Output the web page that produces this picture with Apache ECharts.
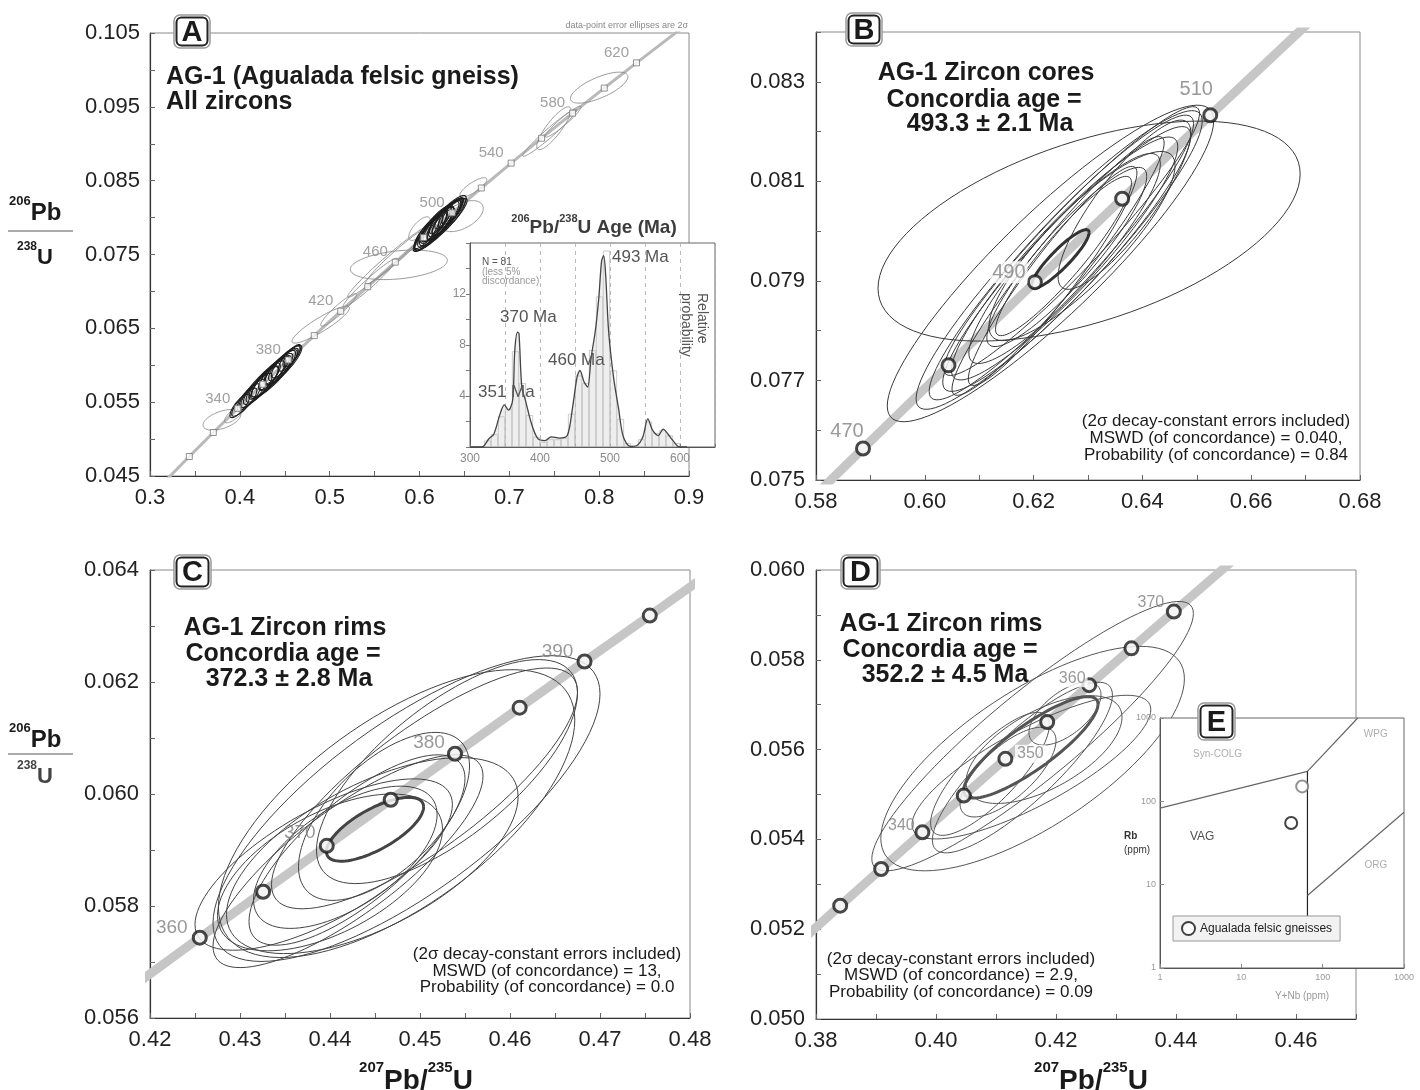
<!DOCTYPE html>
<html><head><meta charset="utf-8">
<script src="https://cdn.jsdelivr.net/npm/echarts@6/dist/echarts.min.js"></script>
<style>html,body{margin:0;padding:0;background:#fff}#c{width:1420px;height:1090px}</style>
</head><body><div id="c"></div>
<script>
const FONT = "'Liberation Sans', Arial, Helvetica, sans-serif";

// ---------- Panel A : concordia reference points (age Ma, 207Pb/235U, 206Pb/238U) ----------
const concAgesA = [260,280,300,320,340,360,380,400,420,440,460,480,500,520,540,560,580,600,620,640,660];
const concXA = [0.29183,0.31753,0.34375,0.37047,0.39773,0.42553,0.45389,0.48281,0.51231,0.54239,0.57307,0.60436,0.63628,0.66883,0.70203,0.73588,0.77041,0.80563,0.84155,0.87818,0.91555];
const concYA = [0.041157,0.044392,0.047638,0.050893,0.054158,0.057434,0.060719,0.064016,0.067322,0.070639,0.073965,0.077303,0.080650,0.084008,0.087376,0.090755,0.094144,0.097544,0.100955,0.104376,0.107806];
const markAgesA = [300,320,340,360,380,400,420,440,460,480,500,520,540,560,580,600,620];
const labelAgesA = [340,380,420,460,500,540,580,620];
// error ellipses: [centre x, centre y, half-width x, half-height y, correlation]
const ellA = [
 [0.612,0.0782,0.018,0.0026,0.85],[0.618,0.0788,0.020,0.0028,0.86],[0.622,0.0792,0.022,0.0030,0.88],
 [0.627,0.0797,0.019,0.0027,0.85],[0.631,0.0801,0.017,0.0025,0.84],[0.616,0.0787,0.015,0.0022,0.82],
 [0.624,0.0795,0.014,0.0021,0.80],[0.620,0.0789,0.026,0.0034,0.90],[0.628,0.0799,0.024,0.0031,0.89],
 [0.614,0.0786,0.012,0.0019,0.80],[0.634,0.0805,0.013,0.0019,0.82],[0.625,0.0793,0.011,0.0017,0.78],
 [0.619,0.0792,0.017,0.0024,0.84],[0.630,0.0798,0.021,0.0028,0.87],[0.608,0.0779,0.014,0.0021,0.83],
 [0.637,0.0809,0.012,0.0018,0.82],[0.623,0.0790,0.030,0.0036,0.92],[0.626,0.0800,0.009,0.0015,0.75],
 [0.621,0.0794,0.010,0.0016,0.76],[0.617,0.0785,0.022,0.0029,0.88],
 [0.425,0.0574,0.018,0.0024,0.85],[0.430,0.0580,0.020,0.0026,0.86],[0.435,0.0585,0.022,0.0028,0.88],
 [0.440,0.0591,0.019,0.0025,0.85],[0.445,0.0597,0.017,0.0023,0.84],[0.420,0.0568,0.016,0.0021,0.83],
 [0.450,0.0603,0.015,0.0020,0.83],[0.438,0.0588,0.026,0.0033,0.90],[0.415,0.0562,0.014,0.0019,0.82],
 [0.410,0.0557,0.013,0.0018,0.80],[0.455,0.0609,0.012,0.0017,0.80],[0.432,0.0583,0.011,0.0016,0.78],
 [0.442,0.0594,0.010,0.0015,0.76],[0.405,0.0550,0.014,0.0019,0.84],[0.400,0.0545,0.011,0.0016,0.80],
 [0.427,0.0577,0.028,0.0035,0.92],[0.448,0.0600,0.021,0.0027,0.87],[0.458,0.0613,0.010,0.0015,0.78],
 [0.436,0.0589,0.009,0.0014,0.72],[0.428,0.0578,0.015,0.0021,0.82]
];
const ellAfaint = [
 [0.647,0.0802,0.024,0.0021,0.50],[0.660,0.0841,0.015,0.0013,0.80],[0.600,0.0785,0.012,0.0016,0.70],
 [0.577,0.0736,0.054,0.0020,0.30],[0.565,0.0740,0.045,0.0048,0.98],[0.575,0.0748,0.035,0.0038,0.97],
 [0.545,0.0712,0.030,0.0033,0.97],[0.510,0.0675,0.020,0.0022,0.93],[0.490,0.0655,0.032,0.0025,0.90],
 [0.745,0.0915,0.030,0.0032,0.97],[0.7495,0.0921,0.019,0.0029,0.85],[0.800,0.0976,0.032,0.0021,0.70],
 [0.760,0.0930,0.020,0.0021,0.95],[0.380,0.0526,0.021,0.0014,0.50],[0.395,0.0535,0.012,0.0013,0.80]
];

// ---------- Panel A inset : 206Pb/238U age probability ----------
const probAges = [300,317,327,334,343,349,355,361,364,368,370,374,379,388,397,407,416,428,439,446,453,457,463,468,473,479,484,488,491,494,498,505,512,519,529,538,547,554,561,569,576,583,590,599,610];
const probVals = [0,0,0.65,1.0,2.6,3.3,2.9,3.7,7.6,9.0,8.9,4.7,3.7,1.8,0.65,0.5,0.8,0.7,0.9,2.9,5.5,6.0,5.1,4.7,7.0,9.1,11.7,14.6,15.0,13.3,9.1,5.5,3.1,0.8,0.05,0.1,0.8,2.2,1.3,0.9,1.4,1.0,0.5,0,0];
const histBins = [325,335,345,355,365,375,385,395,405,415,425,435,445,455,465,475,485,495,505,515,525,535,545,555,565,575,585,595];
const histCounts = [0.5,1,2.4,3,7.5,5,2.5,0.8,0.4,0.6,0.6,0.7,2.6,5.6,5,7.6,11.8,15.4,6,2.2,0.3,0.1,0.6,2,1.1,1.3,0.9,0.3];

// ---------- Panel B ----------
const concAgesB = [460,470,480,490,500,510,520,530];
const concXB = [0.57307,0.58864,0.60436,0.62024,0.63628,0.65247,0.66883,0.68535];
const concYB = [0.073965,0.075633,0.077303,0.078975,0.080650,0.082328,0.084008,0.085690];
const circleAgesB = [470,480,490,500,510];
const labelAgesB = [470,490,510];
const ellB = [
 [0.6302,0.0800,0.0388,0.00221,0.52],[0.6231,0.07935,0.0300,0.00318,0.90],[0.6247,0.07942,0.0263,0.00300,0.93],
 [0.6251,0.07947,0.0243,0.00286,0.94],[0.6261,0.07944,0.0228,0.00266,0.93],[0.6257,0.07945,0.0208,0.00244,0.92],
 [0.6257,0.07945,0.0176,0.00211,0.90],[0.6261,0.07948,0.0147,0.00180,0.90],[0.6367,0.08053,0.0122,0.00170,0.85],
 [0.6289,0.0797,0.0171,0.0019,0.85],[0.6255,0.0795,0.0125,0.0016,0.92],[0.6245,0.0793,0.0195,0.0026,0.95],
 [0.6270,0.0798,0.0235,0.0027,0.95],[0.6235,0.0791,0.0155,0.0022,0.94]
];
const ellBbold = [[0.6249,0.07944,0.0053,0.00059,0.90]];

// ---------- Panel C ----------
const concAgesC = [350,355,360,365,370,375,380,385,390,395,400];
const concXC = [0.41156,0.41853,0.42553,0.43257,0.43964,0.44675,0.45389,0.46107,0.46828,0.47553,0.48281];
const concYC = [0.055795,0.056614,0.057434,0.058255,0.059075,0.059897,0.060719,0.061542,0.062366,0.063186,0.064016];
const circleAgesC = [360,365,370,375,380,385,390,395];
const labelAgesC = [360,370,380,390];
const ellC = [
 [0.4485,0.05974,0.0215,0.00273,0.75],[0.4474,0.05965,0.0198,0.00257,0.65],[0.4447,0.0589,0.0162,0.00175,0.60],
 [0.4393,0.05874,0.0143,0.00153,0.70],[0.4417,0.05887,0.0102,0.00127,0.60],[0.4505,0.0601,0.0170,0.00215,0.80],
 [0.4430,0.0590,0.0120,0.0017,0.75],[0.4460,0.0596,0.0095,0.0015,0.60],[0.4420,0.0588,0.0150,0.0019,0.80],
 [0.4400,0.0586,0.0125,0.0014,0.55],[0.4530,0.0604,0.0145,0.0020,0.70]
];
const ellCbold = [[0.4450,0.05937,0.0054,0.00057,0.70]];

// ---------- Panel D ----------
const concAgesD = [320,325,330,335,340,345,350,355,360,365,370,375,380];
const concXD = [0.37047,0.37723,0.38403,0.39086,0.39773,0.40463,0.41156,0.41853,0.42553,0.43257,0.43964,0.44675,0.45389];
const concYD = [0.050893,0.051708,0.052524,0.053341,0.054158,0.054976,0.055795,0.056614,0.057434,0.058255,0.059075,0.059897,0.060719];
const circleAgesD = [330,335,340,345,350,355,360,365,370];
const labelAgesD = [340,350,360,370];
const ellD = [
 [0.4161,0.0563,0.0268,0.0030,0.91],[0.4161,0.0558,0.0253,0.0025,0.71],[0.4159,0.05561,0.0199,0.0016,0.80],
 [0.4144,0.0556,0.0150,0.0019,0.85],[0.4090,0.05546,0.0099,0.00137,0.80],[0.4215,0.0568,0.0060,0.0007,0.60],
 [0.4120,0.0555,0.0080,0.0010,0.70],[0.4180,0.0560,0.0130,0.0012,0.60]
];
const ellDbold = [[0.4158,0.05605,0.0112,0.00113,0.85]];

// ---------- Panel E : Rb vs Y+Nb ----------
const eYNb = [56, 41];
const eRb = [151, 55];
const lineVagSyn = [[1,83],[65,229]];
const lineWpgSyn = [[65,229],[270,1000]];
const lineVagWpg = [[65,229],[65,4]];
const lineOrgWpg = [[65,7.4],[1000,74]];
const fieldNames = ['Syn-COLG','VAG','WPG','ORG'];
const fieldX = [5.1, 3.3, 450, 450];
const fieldY = [363, 38, 630, 17];

// ================= styles (not data) =================
const labelOffB = {470:[-16,-17],490:[-26,-10],510:[-14,-26]};
const labelOffC = {360:[-28,-10],370:[-27,-13],380:[-26,-11],390:[-27,-10]};
const labelOffD = {340:[-21,-7],350:[25,-5],360:[-17,-7],370:[-23,-9]};
const labelBgB = {490:true};
const labelBgD = {350:true,360:true};

function pairs(xs, ys){ return xs.map((x,i)=>[x, ys[i]]); }
function pick(ages, xs, ys, want){ return want.map(a=>{const i=ages.indexOf(a); return [xs[i], ys[i], a];}); }

function ellipseSeries(g, data, color, lw, z){
  return {type:'custom', xAxisIndex:g, yAxisIndex:g, z:z||3, clip:true, silent:true,
    encode:{x:0,y:1}, data:data,
    renderItem:function(params, api){
      const cx=api.value(0), cy=api.value(1), sx=api.value(2), sy=api.value(3), r=api.value(4);
      const q=Math.sqrt(1-r*r); const pts=[];
      for(let k=0;k<=96;k++){const t=k/96*2*Math.PI;
        pts.push(api.coord([cx+sx*Math.cos(t), cy+sy*(r*Math.cos(t)+q*Math.sin(t))]));}
      return {type:'polyline', shape:{points:pts}, style:{fill:null, stroke:color, lineWidth:lw}};
    }};
}
function concLine(g, xs, ys, width, color){
  return {type:'line', xAxisIndex:g, yAxisIndex:g, data:pairs(xs,ys), showSymbol:false, symbol:'none', clip:true,
    silent:true, z:2, lineStyle:{color:color, width:width, cap:'butt'}};
}
function circleSeries(g, pts, labelAges, offs, bgs, fs){
  return {type:'scatter', xAxisIndex:g, yAxisIndex:g, z:5, silent:true, symbol:'circle', symbolSize:13,
    itemStyle:{color:'#fff', borderColor:'#1a1a1a', borderWidth:3},
    data:pts.map(p=>({value:p, label:{show:labelAges.indexOf(p[2])>=0, position:'inside',
      offset:offs[p[2]]||[0,0], formatter:String(p[2]), fontSize:fs, color:'#808080', fontFamily:FONT,
      backgroundColor:(bgs && bgs[p[2]])?'#fff':'transparent', padding:[1,2]}}))};
}
function valAxis(g, min, max, interval, every, dec, extra){
  const k0=Math.round(min/interval);
  return Object.assign({type:'value', gridIndex:g, min:min, max:max, interval:interval,
    axisLine:{show:true, onZero:false, lineStyle:{color:'#333', width:1.2}},
    axisTick:{show:true, inside:true, length:5, lineStyle:{color:'#666'}},
    axisLabel:{fontSize:22, color:'#222', fontFamily:FONT, margin:11, showMinLabel:true, showMaxLabel:true,
      formatter:function(v){const k=Math.round(v/interval); return ((k-k0)%every===0)? v.toFixed(dec) : '';}},
    splitLine:{show:false}}, extra||{});
}

const series = [];
// Panel A
series.push(concLine(0, concXA, concYA, 3, '#b9b9b9'));
series.push(ellipseSeries(0, ellAfaint, '#8c8c8c', 0.9, 3));
series.push(ellipseSeries(0, ellA, '#1e1e1e', 1.1, 3));
series.push({type:'scatter', xAxisIndex:0, yAxisIndex:0, z:5, silent:true, symbol:'rect', symbolSize:6,
  itemStyle:{color:'#fff', borderColor:'#777', borderWidth:1},
  data:pick(concAgesA, concXA, concYA, markAgesA).map(p=>({value:p, label:{show:labelAgesA.indexOf(p[2])>=0,
    position:'inside', offset:[-20,-10], formatter:String(p[2]), fontSize:15, color:'#888', fontFamily:FONT}}))});
// inset
series.push({type:'bar', xAxisIndex:4, yAxisIndex:4, z:7, silent:true, barWidth:7, data:pairs(histBins, histCounts),
  itemStyle:{color:'rgba(0,0,0,0)', borderColor:'#b5b5b5', borderWidth:0.7}});
series.push({type:'line', xAxisIndex:4, yAxisIndex:4, z:8, silent:true, smooth:0.3, showSymbol:false, symbol:'none',
  data:pairs(probAges, probVals), lineStyle:{color:'#444', width:1.3}, areaStyle:{color:'rgba(200,200,200,0.45)'}});
// Panel B
series.push(concLine(1, concXB, concYB, 9, '#c6c6c6'));
series.push(ellipseSeries(1, ellB, '#3a3a3a', 1.0, 3));
series.push(ellipseSeries(1, ellBbold, '#333', 3, 3));
series.push(circleSeries(1, pick(concAgesB, concXB, concYB, circleAgesB), labelAgesB, labelOffB, labelBgB, 20));
// Panel C
series.push(concLine(2, concXC, concYC, 9, '#c6c6c6'));
series.push(ellipseSeries(2, ellC, '#444', 1.0, 3));
series.push(ellipseSeries(2, ellCbold, '#444', 3, 3));
series.push(circleSeries(2, pick(concAgesC, concXC, concYC, circleAgesC), labelAgesC, labelOffC, null, 19));
// Panel D
series.push(concLine(3, concXD, concYD, 9, '#c6c6c6'));
series.push(ellipseSeries(3, ellD, '#555', 1.0, 3));
series.push(ellipseSeries(3, ellDbold, '#555', 3, 3));
series.push(circleSeries(3, pick(concAgesD, concXD, concYD, circleAgesD), labelAgesD, labelOffD, labelBgD, 16));
// Panel E
[lineVagSyn, lineWpgSyn, lineVagWpg, lineOrgWpg].forEach(function(d, i){
  series.push({type:'line', xAxisIndex:5, yAxisIndex:5, z:7, silent:true, showSymbol:false, symbol:'none', data:d,
    lineStyle:{color: i===2 ? '#222' : '#666', width:1.2}});
});
series.push({type:'scatter', name:'Agualada felsic gneisses', xAxisIndex:5, yAxisIndex:5, z:8, silent:true,
  symbol:'circle', symbolSize:12, itemStyle:{color:'#fff', borderColor:'#111', borderWidth:2},
  data:pairs(eYNb, eRb).map((p,i)=>({value:p, itemStyle: i===0 ? {borderColor:'#777'} : {}}))});
series.push({type:'scatter', xAxisIndex:5, yAxisIndex:5, z:8, silent:true, symbolSize:0,
  data:fieldNames.map((n,i)=>({value:[fieldX[i], fieldY[i]], label:{show:true, position:'inside', formatter:n,
    fontSize: n==='VAG'?12:10, color: n==='VAG'?'#222':'#999', fontFamily:FONT}}))});

// ---------- axes ----------
const logLabel = {fontSize:9, color:'#999', fontFamily:FONT, margin:5, formatter:v=>String(Math.round(v))};
const xAxes = [
  valAxis(0, 0.3, 0.9, 0.05, 2, 1),
  valAxis(1, 0.58, 0.68, 0.01, 2, 2),
  valAxis(2, 0.42, 0.48, 0.005, 2, 2),
  valAxis(3, 0.38, 0.47, 0.01, 2, 2),
  {type:'value', gridIndex:4, min:300, max:650, interval:50, z:6,
    axisLine:{show:true, onZero:false, lineStyle:{color:'#555'}},
    axisTick:{show:true, inside:true, length:3, lineStyle:{color:'#777'}},
    axisLabel:{fontSize:12, color:'#8a8a8a', fontFamily:FONT, margin:6, formatter:v=>(v%100===0 && v<=600)?String(v):''},
    splitLine:{show:true, lineStyle:{color:'#aaa', type:[4,4], width:0.8}}},
  {type:'log', logBase:10, gridIndex:5, min:1, max:1000, z:6,
    axisLine:{show:true, onZero:false, lineStyle:{color:'#555'}},
    axisTick:{show:true, inside:true, length:4, lineStyle:{color:'#888'}},
    axisLabel:logLabel, splitLine:{show:false}}
];
const yAxes = [
  valAxis(0, 0.045, 0.105, 0.005, 2, 3, {axisLabel:{fontSize:22, color:'#222', fontFamily:FONT, margin:10,
    formatter:function(v){const k=Math.round(v/0.005); return ((k-9)%2===0)? v.toFixed(3):'';}}}),
  valAxis(1, 0.075, 0.084, 0.001, 2, 3),
  valAxis(2, 0.056, 0.064, 0.001, 2, 3),
  valAxis(3, 0.050, 0.060, 0.001, 2, 3),
  {type:'value', gridIndex:4, min:0, max:16, interval:2, z:6,
    axisLine:{show:true, onZero:false, lineStyle:{color:'#555'}},
    axisTick:{show:true, inside:false, length:4, lineStyle:{color:'#777'}},
    axisLabel:{fontSize:12, color:'#8a8a8a', fontFamily:FONT, margin:4, formatter:v=>(v%4===0 && v>0 && v<16)?String(v):''},
    splitLine:{show:false}},
  {type:'log', logBase:10, gridIndex:5, min:1, max:1000, z:6,
    axisLine:{show:true, onZero:false, lineStyle:{color:'#555'}},
    axisTick:{show:true, inside:true, length:4, lineStyle:{color:'#888'}},
    axisLabel:Object.assign({}, logLabel, {margin:4}), splitLine:{show:false}}
];

// ---------- graphic annotations ----------
function T(x, y, text, size, opt){
  opt = opt || {};
  return {type:'text', x:x, y:y, z:opt.z||120, rotation:opt.rot||0,
    style:{text:text, fontSize:size, fontWeight:opt.bold?'bold':'normal', fontFamily:FONT, fill:opt.color||'#1a1a1a',
      textAlign:opt.align||'left', align:opt.align||'left', textVerticalAlign:'middle', verticalAlign:'middle'}};
}
function R(x, y, text, big, sup, opt){
  opt = opt || {};
  const col = opt.color || '#1a1a1a';
  return {type:'text', x:x, y:y, z:120,
    style:{text:text, fontFamily:FONT, textAlign:opt.align||'left', align:opt.align||'left',
      textVerticalAlign:'top', verticalAlign:'top',
      rich:{s:{fontSize:sup, fontWeight:'bold', fontFamily:FONT, lineHeight:Math.round(sup*1.1), verticalAlign:'top', fill:col},
            b:{fontSize:big, fontWeight:'bold', fontFamily:FONT, lineHeight:Math.round(big*1.25), verticalAlign:'bottom', fill:col}}}};
}
function letterBox(x, y, w, h, ch){
  return [
    {type:'rect', x:x, y:y, z:110, shape:{x:0,y:0,width:w,height:h,r:6}, style:{fill:'#fff', stroke:'#9a9a9a', lineWidth:1.5}},
    {type:'rect', x:x+2.5, y:y+2.5, z:111, shape:{x:0,y:0,width:w-5,height:h-5,r:5}, style:{fill:'#fff', stroke:'#222', lineWidth:2}},
    T(x+w/2, y+h/2+1, ch, 29, {bold:true, align:'center', z:112})
  ];
}
const els = [].concat(
  letterBox(174, 15, 36, 33, 'A'), letterBox(846, 13, 36, 33, 'B'),
  letterBox(174, 555, 37, 34, 'C'), letterBox(841, 555, 39, 34, 'D'),
  letterBox(1198, 703, 37, 37, 'E'),
  [
    T(688, 26, 'data-point error ellipses are 2\u03c3', 9, {align:'right', color:'#888'}),
    T(166, 77, 'AG-1 (Agualada felsic gneiss)', 25, {bold:true}),
    T(166, 102, 'All zircons', 25, {bold:true}),
    R(9, 195, '{s|206}{b|Pb}', 24, 13),
    {type:'line', z:120, shape:{x1:8, y1:231, x2:73, y2:231}, style:{stroke:'#aaa', lineWidth:2}},
    R(17, 241, '{s|238}{b|U}', 22, 12),
    R(594, 213, '{s|206}{b|Pb/}{s|238}{b|U Age (Ma)}', 19, 11, {align:'center', color:'#3c3c3c'}),
    T(482, 262, 'N = 81', 10, {color:'#555'}),
    T(482, 272, '(less 5%', 10, {color:'#9a9a9a'}),
    T(482, 281, 'discordance)', 10, {color:'#9a9a9a'}),
    T(478, 392, '351 Ma', 17, {color:'#555'}),
    T(500, 317, '370 Ma', 17, {color:'#555'}),
    T(548, 360, '460 Ma', 17, {color:'#555'}),
    T(612, 257, '493 Ma', 17, {color:'#555'}),
    T(702, 293, 'Relative', 14, {color:'#555', rot:-Math.PI/2}),
    T(686, 293, 'probability', 14, {color:'#555', rot:-Math.PI/2}),
    // B
    T(986, 73, 'AG-1 Zircon cores', 25, {bold:true, align:'center'}),
    T(984, 100, 'Concordia age =', 25, {bold:true, align:'center'}),
    T(990, 124, '493.3 \u00b1 2.1 Ma', 25, {bold:true, align:'center'}),
    T(1216, 421, '(2\u03c3 decay-constant errors included)', 17, {align:'center'}),
    T(1216, 438, 'MSWD (of concordance) = 0.040,', 17, {align:'center'}),
    T(1216, 455, 'Probability (of concordance) = 0.84', 17, {align:'center'}),
    // C
    T(285, 628, 'AG-1 Zircon rims', 25, {bold:true, align:'center'}),
    T(283, 654, 'Concordia age =', 25, {bold:true, align:'center'}),
    T(289, 679, '372.3 \u00b1 2.8 Ma', 25, {bold:true, align:'center'}),
    T(547, 954, '(2\u03c3 decay-constant errors included)', 17, {align:'center'}),
    T(547, 971, 'MSWD (of concordance) = 13,', 17, {align:'center'}),
    T(547, 987, 'Probability (of concordance) = 0.0', 17, {align:'center'}),
    R(9, 722, '{s|206}{b|Pb}', 24, 13),
    {type:'line', z:120, shape:{x1:8, y1:754, x2:73, y2:754}, style:{stroke:'#aaa', lineWidth:2}},
    R(17, 760, '{s|238}{b|U}', 22, 12, {color:'#444'}),
    R(416, 1060, '{s|207}{b|Pb/}{s|235}{b|U}', 28, 15, {align:'center'}),
    // D
    T(941, 624, 'AG-1 Zircon rims', 25, {bold:true, align:'center'}),
    T(940, 650, 'Concordia age =', 25, {bold:true, align:'center'}),
    T(945, 675, '352.2 \u00b1 4.5 Ma', 25, {bold:true, align:'center'}),
    T(961, 959, '(2\u03c3 decay-constant errors included)', 17, {align:'center'}),
    T(961, 975, 'MSWD (of concordance) = 2.9,', 17, {align:'center'}),
    T(961, 992, 'Probability (of concordance) = 0.09', 17, {align:'center'}),
    R(1091, 1060, '{s|207}{b|Pb/}{s|235}{b|U}', 28, 15, {align:'center'}),
    // E
    T(1124, 836, 'Rb', 10, {bold:true, color:'#333'}),
    T(1124, 850, '(ppm)', 10, {color:'#333'}),
    T(1302, 996, 'Y+Nb (ppm)', 10, {align:'center', color:'#999'})
  ]
);

const option = {
  animation:false,
  backgroundColor:'#fff',
  grid:[
    {left:150, top:33, width:539, height:443, show:true, borderColor:'#8a8a8a', borderWidth:1},
    {left:816, top:32, width:544, height:448, show:true, borderColor:'#8a8a8a', borderWidth:1},
    {left:150, top:570, width:540, height:448, show:true, borderColor:'#8a8a8a', borderWidth:1},
    {left:816, top:570, width:540, height:449, show:true, borderColor:'#8a8a8a', borderWidth:1},
    {left:470, top:243, width:245, height:204, z:5, show:true, backgroundColor:'#fff', borderColor:'#666', borderWidth:1},
    {left:1160, top:718, width:244, height:250, z:5, show:true, backgroundColor:'#fff', borderColor:'#666', borderWidth:1}
  ],
  xAxis:xAxes, yAxis:yAxes,
  legend:{data:['Agualada felsic gneisses'], left:1173, top:916, z:20, orient:'horizontal',
    padding:[5,8], backgroundColor:'#f2f2f2', borderColor:'#999', borderWidth:1, itemWidth:13, itemHeight:13, itemGap:5,
    icon:'circle', itemStyle:{color:'#fff', borderColor:'#111', borderWidth:2},
    textStyle:{fontSize:12, color:'#222', fontFamily:FONT}},
  series:series,
  graphic:{elements:els}
};
const chart = echarts.init(document.getElementById('c'));
chart.setOption(option);
</script></body></html>
